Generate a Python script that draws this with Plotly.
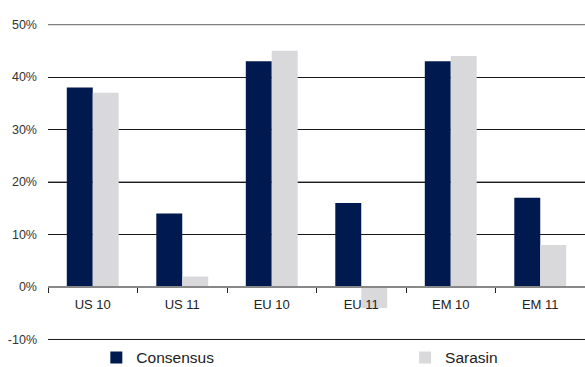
import plotly.graph_objects as go

categories = ["US 10", "US 11", "EU 10", "EU 11", "EM 10", "EM 11"]
consensus = [38, 14, 43, 16, 43, 17]
sarasin = [37, 2, 45, -4, 44, 8]
y_ticks = [-10, 0, 10, 20, 30, 40, 50]
y_tick_labels = [f"{v}%" for v in y_ticks]

NAVY = "#001A50"
LIGHT = "#D9D9DB"
FONT = "Liberation Sans, Arial, sans-serif"

fig = go.Figure()
fig.add_trace(go.Bar(name="Consensus", x=categories, y=consensus, legend="legend",
                     marker=dict(color=NAVY, line=dict(width=0))))
fig.add_trace(go.Bar(name="Sarasin", x=categories, y=sarasin, legend="legend2",
                     marker=dict(color=LIGHT, line=dict(width=0))))

legend_common = dict(orientation="h", yref="container", y=0.025, yanchor="middle",
                     xanchor="left", font=dict(size=15.5, color="#222222"),
                     itemwidth=30, bgcolor="rgba(0,0,0,0)")

fig.update_layout(
    width=585, height=367,
    margin=dict(l=48, r=0, t=24, b=27, autoexpand=False),
    paper_bgcolor="white", plot_bgcolor="white",
    barmode="group", bargap=0.42, bargroupgap=0,
    font=dict(family=FONT, color="#333333"),
    showlegend=True,
    legend=dict(x=0.09, **legend_common),
    legend2=dict(x=0.665, **legend_common),
    xaxis=dict(
        type="category", anchor="free", position=10.1 / 60.2,
        showline=True, linecolor="#888888", linewidth=2,
        ticks="outside", tickson="boundaries", ticklen=5, tickcolor="#222222",
        tickfont=dict(size=13, color="#222222"), ticklabelstandoff=5,
        showgrid=False, fixedrange=True,
    ),
    yaxis=dict(
        range=[-10.1, 50.1], tickvals=y_ticks, ticktext=y_tick_labels,
        showgrid=True, gridcolor="#1a1a1a", gridwidth=1,
        zeroline=False, showline=False, ticks="",
        tickfont=dict(size=12.5, color="#333333"), ticklabelstandoff=10,
    ),
)

# horizontal rules: lighter at 20% and 50%, dark at the -10% floor
for v, c, w in ((20, "#7f7f7f", 1.5), (50, "#7f7f7f", 1.5), (-10, "#1a1a1a", 1)):
    fig.add_shape(type="line", xref="paper", x0=0, x1=1, yref="y", y0=v, y1=v,
                  line=dict(color=c, width=w), layer="between")

fig.write_html("out.html")
